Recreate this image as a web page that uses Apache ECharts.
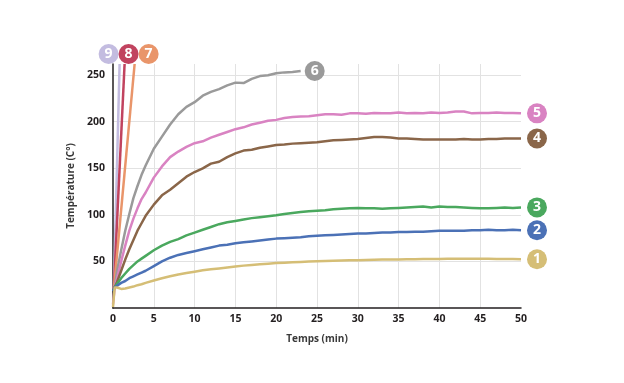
<!DOCTYPE html>
<html>
<head>
<meta charset="utf-8">
<script src="https://cdn.jsdelivr.net/npm/echarts@6/dist/echarts.min.js"></script>
<style>
html,body{margin:0;padding:0;background:#fff;}
#chart{width:624px;height:383px;}
</style>
</head>
<body>
<div id="chart"></div>
<script>
// shared time axis (min) for series 1-5
var tMain = [0,0.2,0.5,1,1.5,2,2.5,3,3.5,4,5,6,7,8,9,10,11,12,13,14,15,16,17,18,19,20,21,22,23,24,25,26,27,28,29,30,31,32,33,34,35,36,37,38,39,40,41,42,43,44,45,46,47,48,49,50];
var s1 = [1,22,22,20.5,21,22,23,24.5,25.5,27,29.5,32,34,36,37.5,39,40.5,41.5,42.5,43.5,44.5,45.5,46.3,47,47.6,48.2,48.7,49.1,49.5,49.9,50.2,50.5,50.8,51,51.2,51.4,51.6,51.8,52,52.1,52.2,52.3,52.4,52.5,52.6,52.7,52.8,52.8,52.8,52.8,52.8,52.8,52.7,52.6,52.5,52.4];
var s2 = [18,22,24,27,29,32,34,36,38,40,45,50,54,57,59,61,63,65,67,68,69.5,70.5,71.5,72.5,73.5,74.5,75,75.5,76,77,77.5,78,78.5,79,79.5,80,80,80.5,81,81,81.5,81.5,82,82,82.5,83,83,83,83,83.5,83.5,84,83.5,83.5,84,83.5];
var s3 = [18,22,26,32,37,42,46,50,53,56,62,67,71,74,78,81,84,87,90,92,93.5,95,96.5,97.5,98.5,99.5,101,102,103,104,104.5,105,106,106.5,107,107.5,107,107,106.5,107,107.5,108,108.5,109,108,109,108.5,108.5,108,107.5,107,107,107.5,108,107.5,108];
var s4 = [18,22,28,40,52,63,73,83,91,99,111,121,127,134,141,146,150,155,157,162,166,169,170,172,173.5,175,175.5,176.5,177,177.5,178,179,180,180.5,181,181.5,182.5,183.5,183.5,183,182,182,181.5,181,181,181,181,181,181.5,181,181,181.5,181.5,182,182,182];
var s5 = [4,22,32,50,67,83,96,107,117,124,140,152,162,168,173,177,179,183,186,189,192,194,197,199,201,202,204,205,205.5,206,207,208,208,207.5,209,209,208.5,209.5,209,209,210,209,209.5,209,210,209.5,210,211,211,209,209.5,209.5,210,209.5,209.5,209];
// series 6 (stops at ~23 min)
var t6 = [0.2,0.5,1,1.5,2,2.5,3,3.5,4,5,6,7,8,9,10,11,12,13,14,15,16,17,18,19,20,21,22,23];
var s6 = [22,40,62,83,101,118,131,143,153,171,184,197,208,216,221,228,232,235,239,242,241.5,246,249,250,252,253,253.5,254.5];
// fast series 7-9
var t7 = [0.1,2.65];
var s7 = [20,262];
var t8 = [0.1,1.42];
var s8 = [20,262];
var t9 = [0.1,0.81];
var s9 = [20,262];
var names = ['1','2','3','4','5','6','7','8','9'];
var colors = ['#d5be76','#4b71b6','#4aa85e','#8a6649','#d983c2','#9a9a9a','#e9956a','#c1435f','#c3bce0'];
var xTicks = [0,5,10,15,20,25,30,35,40,45,50];
var yTicks = [50,100,150,200,250];

function pairs(t, v){ return t.map(function(x,i){ return [x, v[i]]; }); }
var sets = [[tMain,s1],[tMain,s2],[tMain,s3],[tMain,s4],[tMain,s5],[t6,s6],[t7,s7],[t8,s8],[t9,s9]];
// badge placement relative to line end (style only)
var badgeCfg = [
  {d:6,va:'middle'},{d:6,va:'middle'},{d:6,va:'middle'},{d:6,va:'middle'},{d:6,va:'middle'},
  {d:4,va:'middle'},{d:4,va:'bottom'},{d:-6,va:'bottom'},{d:-21,va:'bottom'}
];

var series = sets.map(function(s, i){
  return {
    type:'line', name:names[i], data:pairs(s[0], s[1]),
    showSymbol:false, symbol:'none', smooth:false, z: 10 - i,
    lineStyle:{color:colors[i], width:2.5},
    itemStyle:{color:colors[i]},
    animation:false,
    endLabel:{
      show:true, formatter:'{b|' + names[i] + '}',
      distance:badgeCfg[i].d, align:'left', verticalAlign:badgeCfg[i].va,
      rich:{b:{width:20,height:20,lineHeight:20,align:'center',backgroundColor:colors[i],borderRadius:10,color:'#fff',fontWeight:'bold',fontSize:14,fontFamily:'Open Sans'}}
    }
  };
});

var chart = echarts.init(document.getElementById('chart'), null, {renderer:'canvas'});
chart.setOption({
  animation:false,
  backgroundColor:'#ffffff',
  grid:{left:113, right:103, top:64, bottom:75, containLabel:false},
  xAxis:{
    type:'value', min:0, max:50, interval:5,
    name:'Temps (min)', nameLocation:'middle', nameGap:26,
    nameTextStyle:{fontFamily:'Open Sans', fontWeight:'bold', fontSize:10, color:'#3a3a3a'},
    axisLine:{show:true, onZero:false, lineStyle:{color:'#231f20', width:1.5}},
    axisTick:{show:false},
    axisLabel:{margin:6, fontFamily:'Open Sans', fontWeight:'bold', fontSize:10.5, color:'#231f20',
      formatter:function(v){ return xTicks.indexOf(v) >= 0 ? String(v) : ''; }},
    splitLine:{show:true, showMinLine:false, showMaxLine:false, lineStyle:{color:'#e2e2e2', width:1}}
  },
  yAxis:{
    type:'value', min:0, max:262, interval:50,
    name:'Température (C°)', nameLocation:'middle', nameGap:30,
    nameTextStyle:{fontFamily:'Open Sans', fontWeight:'bold', fontSize:10, color:'#3a3a3a'},
    axisLine:{show:true, onZero:false, lineStyle:{color:'#231f20', width:1.5}},
    axisTick:{show:false},
    axisLabel:{margin:8, showMinLabel:false, showMaxLabel:false, fontFamily:'Open Sans', fontWeight:'bold', fontSize:10.5, color:'#231f20',
      formatter:function(v){ return yTicks.indexOf(v) >= 0 ? String(v) : ''; }},
    splitLine:{show:true, showMinLine:false, showMaxLine:false, lineStyle:{color:'#e2e2e2', width:1}}
  },
  series:series
});
</script>
</body>
</html>
